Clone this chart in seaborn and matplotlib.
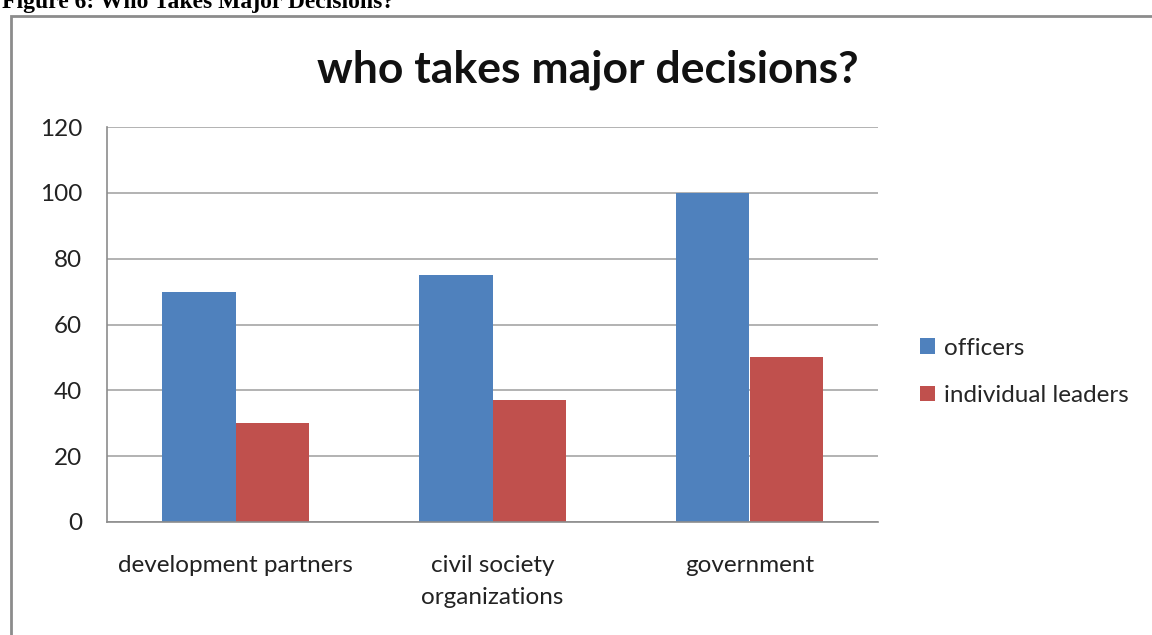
import matplotlib
matplotlib.use("Agg")
import matplotlib.pyplot as plt
import seaborn as sns
import pandas as pd
from matplotlib.patches import Rectangle

categories = ["development partners", "civil society\norganizations", "government"]
series = ["officers", "individual leaders"]
officers = [70, 75, 100]
individual_leaders = [30, 37, 50]

df = pd.DataFrame({
    "category": categories * 2,
    "series": [series[0]] * 3 + [series[1]] * 3,
    "value": officers + individual_leaders,
})

sns.set_style("white")
plt.rcParams["font.family"] = ["Lato", "DejaVu Sans"]

fig = plt.figure(figsize=(11.52, 6.35), dpi=100)
ax = fig.add_axes([107 / 1152, 1 - 522 / 635, 771 / 1152, 395 / 635])

sns.barplot(data=df, x="category", y="value", hue="series", ax=ax,
            palette=["#4F81BD", "#C0504D"], width=0.57, saturation=1,
            edgecolor="none")

ax.set_ylim(0, 120)
ax.set_yticks(range(0, 121, 20))
ax.yaxis.grid(True, color="#a6a6a6", linewidth=1.2)
ax.set_axisbelow(True)
ax.set_xlabel("")
ax.set_ylabel("")
for s in ["top", "right"]:
    ax.spines[s].set_visible(False)
for s in ["left", "bottom"]:
    ax.spines[s].set_color("#8c8c8c")
    ax.spines[s].set_linewidth(1.2)
ax.tick_params(axis="y", labelsize=17.5, colors="#222222", pad=18, length=0)
ax.tick_params(axis="x", labelsize=17.5, colors="#222222", pad=24, length=0)
for lbl in ax.get_xticklabels():
    lbl.set_linespacing(1.6)

leg = ax.legend(loc="center left", borderaxespad=0,
                frameon=False, fontsize=17.5, handlelength=0.6,
                handleheight=0.6, handletextpad=0.4, labelspacing=1.1)
leg.set_bbox_to_anchor((1.042, 0.38), transform=ax.transAxes)

fig.text(588 / 1152, 1 - 70 / 635, "who takes major decisions?", ha="center",
         va="center", fontsize=32, fontweight="bold", color="#111111")

# outer chart border
fig.patches.append(Rectangle((11 / 1152, -0.05), 1.2, 1 - 16 / 635 + 0.05,
                             transform=fig.transFigure, fill=False,
                             edgecolor="#8c8c8c", linewidth=2))

fig.text(2 / 1152, 1 - 8 / 635, "Figure 6: Who Takes Major Decisions?",
         ha="left", va="baseline", fontsize=17, fontweight="bold",
         family=["Liberation Serif"], color="black")

fig.savefig("out.png", dpi=100)
